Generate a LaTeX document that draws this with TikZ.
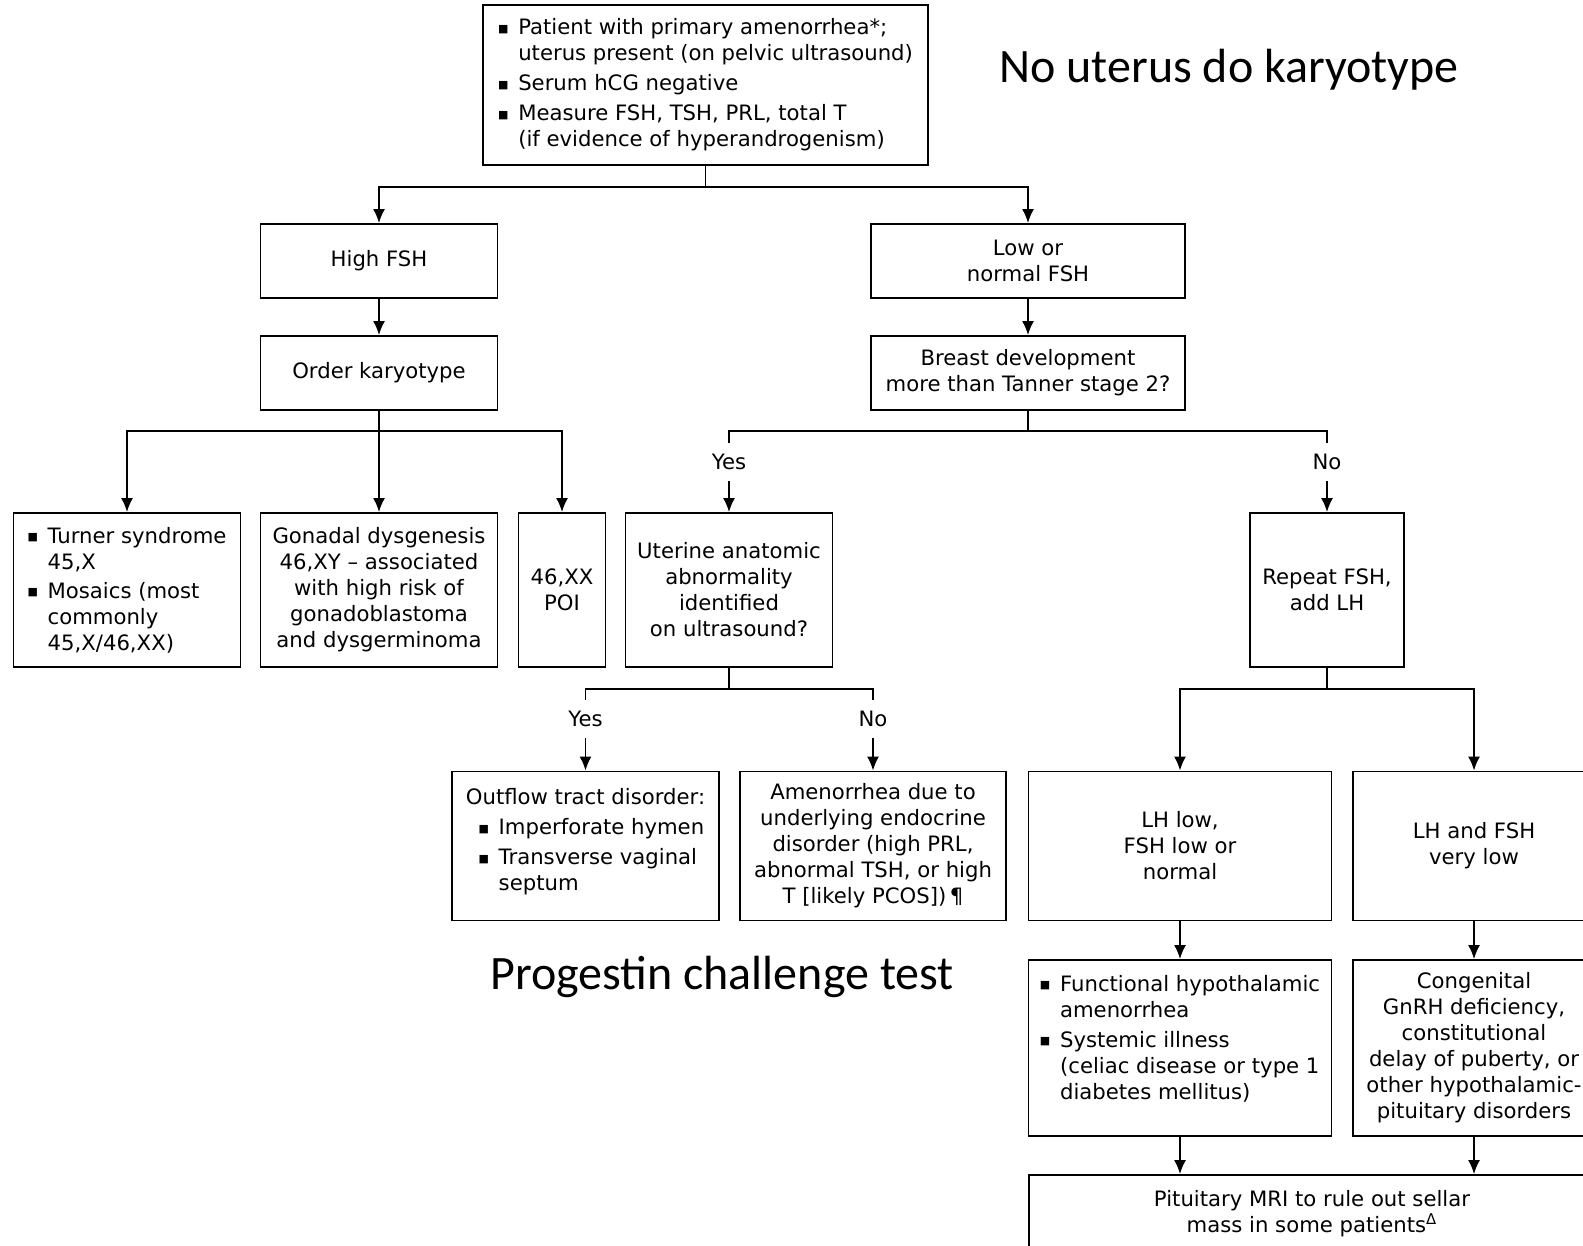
\documentclass[tikz,border=0pt]{standalone}
\usepackage{fontspec}
\setmainfont{DejaVu Sans}
\newfontfamily\calfont{Carlito}
\usepackage{tikz}
\usetikzlibrary{arrows.meta,positioning,calc}

\newcommand{\bul}{\makebox[0.95em][l]{\raisebox{0.22ex}{\fontsize{5.5}{5.5}\selectfont ■}}}
\newcommand{\hang}{\hspace*{0.95em}}

\begin{document}
\begin{tikzpicture}[
    x=0.5pt, y=-0.5pt,
    box/.style={rectangle, draw, line width=0.9pt, inner sep=2pt, align=center, font=\fontsize{10.6}{13}\selectfont},
    lbox/.style={box, align=left},
    tag/.style={inner sep=0pt, minimum height=19pt, font=\fontsize{10.6}{13}\selectfont},
    big/.style={font=\calfont\fontsize{24}{28}\selectfont},
    link/.style={line width=0.9pt},
    arr/.style={link, -{Latex[length=7pt, width=6pt]}}
]
    \useasboundingbox (0,0) rectangle (1583,1246);
    \clip (0,0) rectangle (1583,1246);

    % Start box
    \node[lbox, minimum width=222.5pt, minimum height=80pt] (top) at (705.5,85) {\bul Patient with primary amenorrhea*;\\ \hang uterus present (on pelvic ultrasound)\\[2pt] \bul Serum hCG negative\\[2pt] \bul Measure FSH, TSH, PRL, total T\\ \hang (if evidence of hyperandrogenism)};

    % FSH level
    \node[box, minimum width=118.5pt, minimum height=37pt] (high) at (379,261) {High FSH};
    \node[box, minimum width=157pt, minimum height=37pt] (low) at (1028,261) {Low or\\normal FSH};
    \node[box, minimum width=118.5pt, minimum height=37pt] (karyo) at (379,373) {Order karyotype};
    \node[box, minimum width=157pt, minimum height=37pt] (breast) at (1028,373) {Breast development\\more than Tanner stage 2?};

    % Karyotype results
    \node[lbox, minimum width=113.5pt, minimum height=77pt] (turner) at (127,590) {\bul Turner syndrome\\ \hang 45,X\\[1.5pt] \bul Mosaics (most\\ \hang commonly\\ \hang 45,X/46,XX)};
    \node[box, minimum width=118.5pt, minimum height=77pt] (gonadal) at (379,590) {Gonadal dysgenesis\\46,XY – associated\\with high risk of\\gonadoblastoma\\and dysgerminoma};
    \node[box, minimum width=43.5pt, minimum height=77pt] (poi) at (562,590) {46,XX\\POI};

    % Breast development branches
    \node[box, minimum width=103.5pt, minimum height=77pt] (uterine) at (729,590) {Uterine anatomic\\abnormality\\identified\\on ultrasound?};
    \node[box, minimum width=77pt, minimum height=77pt] (repeat) at (1327,590) {Repeat FSH,\\add LH};
    \node[tag] (yes1) at (729,462) {Yes};
    \node[tag] (no1) at (1327,462) {No};

    \node[lbox, minimum width=133.25pt, minimum height=74.5pt] (outflow) at (585.5,846) {Outflow tract disorder:\\[2pt] \hspace*{0.6em}\bul Imperforate hymen\\[2pt] \hspace*{0.6em}\bul Transverse vaginal\\ \hspace*{1.55em}septum\\[-6.5pt]\mbox{}};
    \node[box, minimum width=133.25pt, minimum height=74.5pt] (endocrine) at (873,846) {Amenorrhea due to\\underlying endocrine\\disorder (high PRL,\\abnormal TSH, or high\\T [likely PCOS])\,¶};
    \node[tag] (yes2) at (585.5,719) {Yes};
    \node[tag] (no2) at (873,719) {No};

    % LH results
    \node[box, minimum width=151.5pt, minimum height=74.5pt] (lhlow) at (1180,846) {LH low,\\FSH low or\\normal};
    \node[box, minimum width=121pt, minimum height=74.5pt] (lhvlow) at (1474,846) {LH and FSH\\very low};
    \node[lbox, minimum width=151.5pt, minimum height=88pt] (functional) at (1180,1048) {\bul Functional hypothalamic\\ \hang amenorrhea\\[2pt] \bul Systemic illness\\ \hang (celiac disease or type 1\\ \hang diabetes mellitus)\\[-2pt]\mbox{}};
    \node[box, minimum width=121pt, minimum height=88pt] (congenital) at (1474,1048) {Congenital\\GnRH deficiency,\\constitutional\\delay of puberty, or\\other hypothalamic-\\pituitary disorders};
    \node[box, minimum width=283pt, minimum height=39pt] (mri) at (1312,1214) {Pituitary MRI to rule out sellar\\mass in some patients\textsuperscript{Δ}};

    % Side notes
    \node[big, anchor=base] (nouterus) at (1229,83) {No uterus do karyotype};
    \node[big, anchor=base] (progestin) at (722,989) {Progestin challenge test};

    % Connectors
    \coordinate (f1) at (705.5,187);
    \draw[link] (top.south) -- (f1);
    \draw[arr] (f1) -| (high.north);
    \draw[arr] (f1) -| (low.north);
    \draw[arr] (high) -- (karyo);
    \draw[arr] (low) -- (breast);

    \coordinate (f2) at (379,431);
    \draw[link] (karyo.south) -- (f2);
    \draw[arr] (f2) -| (turner.north);
    \draw[arr] (f2) -- (gonadal.north);
    \draw[arr] (f2) -| (poi.north);

    \coordinate (f3) at (1028,431);
    \draw[link] (breast.south) -- (f3);
    \draw[link] (f3) -| (yes1.north);
    \draw[link] (f3) -| (no1.north);
    \draw[arr] (yes1) -- (uterine);
    \draw[arr] (no1) -- (repeat);

    \coordinate (f4) at (729,689);
    \draw[link] (uterine.south) -- (f4);
    \draw[link] (f4) -| (yes2.north);
    \draw[link] (f4) -| (no2.north);
    \draw[arr] (yes2) -- (outflow);
    \draw[arr] (no2) -- (endocrine);

    \coordinate (f5) at (1327,689);
    \draw[link] (repeat.south) -- (f5);
    \draw[arr] (f5) -| (lhlow.north);
    \draw[arr] (f5) -| (lhvlow.north);
    \draw[arr] (lhlow) -- (functional);
    \draw[arr] (lhvlow) -- (congenital);
    \draw[arr] (functional.south) -- (functional.south |- mri.north);
    \draw[arr] (congenital.south) -- (congenital.south |- mri.north);
\end{tikzpicture}
\end{document}
